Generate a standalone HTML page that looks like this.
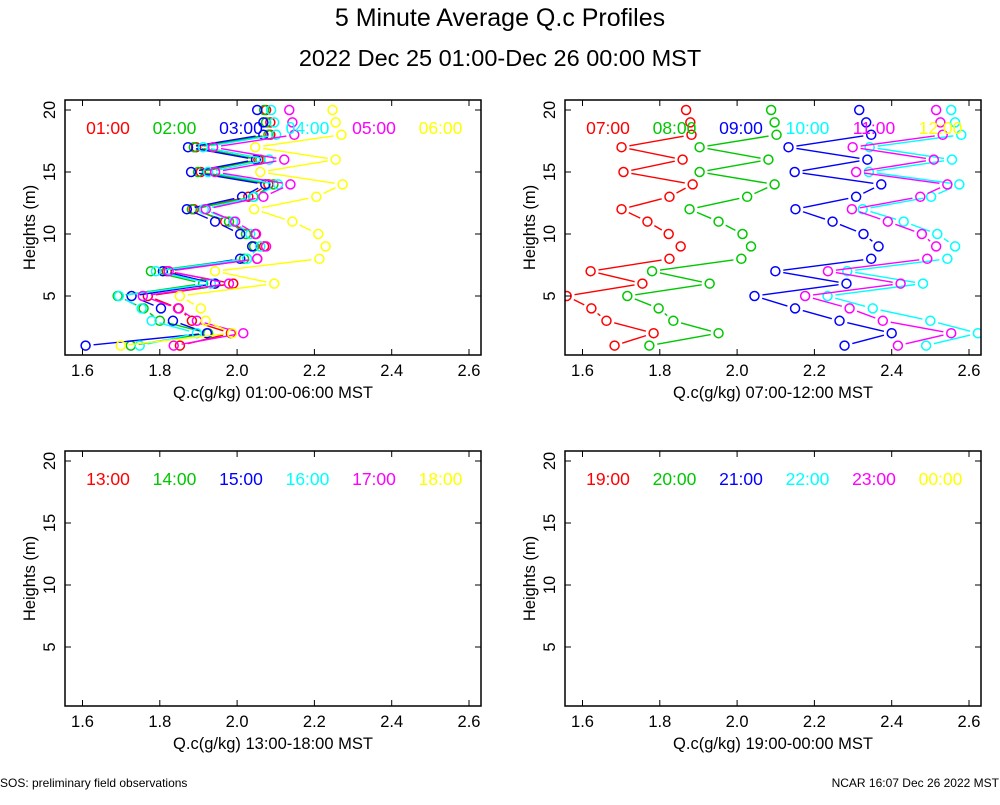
<!DOCTYPE html>
<html><head><meta charset="utf-8">
<style>
body{margin:0;background:#fff;}
svg text{font-family:"Liberation Sans",sans-serif;}
</style></head>
<body>
<svg id="chart" width="1000" height="800" viewBox="0 0 1000 800" xmlns="http://www.w3.org/2000/svg">
<rect width="1000" height="800" fill="#fff"/>
<text x="500" y="26" font-size="25" text-anchor="middle">5 Minute Average Q.c Profiles</text>
<text x="500" y="66" font-size="23.5" text-anchor="middle">2022 Dec 25 01:00-Dec 26 00:00 MST</text>
<text x="0" y="787" font-size="12">SOS: preliminary field observations</text>
<text x="999" y="787" font-size="12" text-anchor="end">NCAR 16:07 Dec 26 2022 MST</text>
</svg>
<script>
const heights=[1,2,3,4,5,6,7,8,9,10,11,12,13,14,15,16,17,18,19,20];
const xTicks=[1.6,1.8,2.0,2.2,2.4,2.6];
const xTickLabels=["1.6","1.8","2.0","2.2","2.4","2.6"];
const yTicks=[5,10,15,20];
const colors=["#ff0000","#00c800","#0000ff","#00ffff","#ff00ff","#ffff00"];
const p1Labels=["01:00","02:00","03:00","04:00","05:00","06:00"];
const p2Labels=["07:00","08:00","09:00","10:00","11:00","12:00"];
const p3Labels=["13:00","14:00","15:00","16:00","17:00","18:00"];
const p4Labels=["19:00","20:00","21:00","22:00","23:00","00:00"];
const s0100=[1.852,1.984,1.883,1.849,1.769,1.990,1.818,2.052,2.070,2.047,1.969,1.888,2.029,2.081,1.906,2.055,1.894,2.086,2.086,2.075];
const s0200=[1.725,1.925,1.800,1.758,1.691,1.912,1.777,2.018,2.044,2.023,1.979,1.883,2.042,2.094,1.899,2.060,1.888,2.081,2.075,2.070];
const s0300=[1.608,1.922,1.834,1.803,1.727,1.943,1.808,2.008,2.039,2.008,1.943,1.870,2.013,2.073,1.881,2.049,1.873,2.068,2.068,2.052];
const s0400=[1.748,1.896,1.779,1.753,1.694,1.932,1.790,2.026,2.060,2.034,1.990,1.914,2.044,2.106,1.925,2.083,1.912,2.101,2.096,2.088];
const s0500=[1.836,2.016,1.896,1.847,1.756,1.979,1.823,2.052,2.075,2.049,1.995,1.919,2.068,2.138,1.943,2.122,1.938,2.148,2.143,2.135];
const s0600=[1.699,1.987,1.919,1.906,1.852,2.096,1.943,2.213,2.229,2.210,2.143,2.044,2.205,2.273,2.060,2.255,2.047,2.270,2.255,2.247];
const s0700=[1.683,1.784,1.662,1.623,1.559,1.755,1.621,1.825,1.854,1.823,1.768,1.701,1.825,1.885,1.706,1.859,1.701,1.882,1.879,1.868];
const s0800=[1.773,1.952,1.835,1.797,1.716,1.929,1.780,2.011,2.036,2.014,1.952,1.877,2.026,2.097,1.903,2.081,1.903,2.102,2.097,2.088];
const s0900=[2.278,2.400,2.265,2.150,2.045,2.283,2.099,2.347,2.366,2.327,2.247,2.151,2.308,2.373,2.149,2.337,2.133,2.347,2.334,2.316];
const s1000=[2.489,2.623,2.500,2.351,2.234,2.481,2.285,2.544,2.564,2.518,2.431,2.325,2.502,2.575,2.341,2.556,2.343,2.580,2.564,2.554];
const s1100=[2.416,2.554,2.377,2.291,2.176,2.423,2.235,2.492,2.515,2.478,2.390,2.297,2.474,2.544,2.308,2.509,2.299,2.532,2.526,2.515];
const s1200=[];
const panels=[
 {ox:0,oy:0,labels:p1Labels,title:"Q.c(g/kg) 01:00-06:00 MST",series:[s0100,s0200,s0300,s0400,s0500,s0600]},
 {ox:500,oy:0,labels:p2Labels,title:"Q.c(g/kg) 07:00-12:00 MST",series:[s0700,s0800,s0900,s1000,s1100,s1200]},
 {ox:0,oy:351,labels:p3Labels,title:"Q.c(g/kg) 13:00-18:00 MST",series:[[],[],[],[],[],[]]},
 {ox:500,oy:351,labels:p4Labels,title:"Q.c(g/kg) 19:00-00:00 MST",series:[[],[],[],[],[],[]]}
];
const NS="http://www.w3.org/2000/svg";
const svg=document.getElementById('chart');
function mk(tag,attrs,parent){const e=document.createElementNS(NS,tag);for(const k in attrs)e.setAttribute(k,attrs[k]);(parent||svg).appendChild(e);return e;}
panels.forEach((p,pi)=>{
 const L=65+p.ox,R=481+p.ox,T=100+p.oy,B=355+p.oy;
 const xs=v=>82.5+p.ox+(v-1.6)*386.5;
 const ys=h=>110+p.oy+(20-h)*12.4;
 const g=mk('g',{});
 
 
 const clip=mk('clipPath',{id:'clip'+pi},g);
 mk('rect',{x:L,y:T,width:R-L,height:B-T},clip);
 const plot=mk('g',{'clip-path':'url(#clip'+pi+')'},g);
 const rr=4.5,gap=8;
 p.series.forEach((s,si)=>{
  const sg=mk('g',{},plot);
  
  
  for(let i=0;i+1<s.length;i++){
   const x1=xs(s[i]),y1=ys(heights[i]),x2=xs(s[i+1]),y2=ys(heights[i+1]);
   const d=Math.hypot(x2-x1,y2-y1);
   if(d>2*gap+2){const ux=(x2-x1)/d,uy=(y2-y1)/d;
    const ln=mk('line',{x1:x1+ux*gap,y1:y1+uy*gap,x2:x2-ux*gap,y2:y2-uy*gap,stroke:colors[si],'stroke-width':1.4},sg);
    
    }
  }
  s.forEach((v,i)=>{
   const c=mk('circle',{cx:xs(v),cy:ys(heights[i]),r:rr,fill:'none',stroke:colors[si],'stroke-width':1.5},sg);
   
   
  });
 });
 const fr=mk('rect',{x:L,y:T,width:R-L,height:B-T,fill:'none',stroke:'#000','stroke-width':1.5},g);
 
 
 xTicks.forEach((t,i)=>{
  const x=xs(t);
  mk('line',{x1:x,y1:B,x2:x,y2:B-6,stroke:'#000','stroke-width':1},g);
  mk('line',{x1:x,y1:T,x2:x,y2:T+6,stroke:'#000','stroke-width':1},g);
  const tx=mk('text',{x:x,y:B+21,'font-size':16.5,'text-anchor':'middle'},g);
  tx.textContent=xTickLabels[i];
  
  
 });
 yTicks.forEach(t=>{
  const y=ys(t);
  mk('line',{x1:L,y1:y,x2:L+6,y2:y,stroke:'#000','stroke-width':1},g);
  mk('line',{x1:R,y1:y,x2:R-6,y2:y,stroke:'#000','stroke-width':1},g);
  const tx=mk('text',{x:0,y:0,'font-size':16.5,'text-anchor':'middle',transform:`translate(${L-10},${y}) rotate(-90)`},g);
  tx.textContent=String(t);
  
  
 });
 const xt=mk('text',{x:(L+R)/2,y:B+43,'font-size':16.5,'text-anchor':'middle'},g);
 xt.textContent=p.title;
 
 
 const yt=mk('text',{x:0,y:0,'font-size':16.5,'text-anchor':'middle',transform:`translate(${L-30},${(T+B)/2}) rotate(-90)`},g);
 yt.textContent='Heights (m)';
 
 
 p.labels.forEach((lb,i)=>{
  const t=mk('text',{x:108+p.ox+i*66.5,y:134+p.oy,'font-size':17.5,'text-anchor':'middle',fill:colors[i]},g);
  t.textContent=lb;
  
  
 });
});
</script>
</body></html>
